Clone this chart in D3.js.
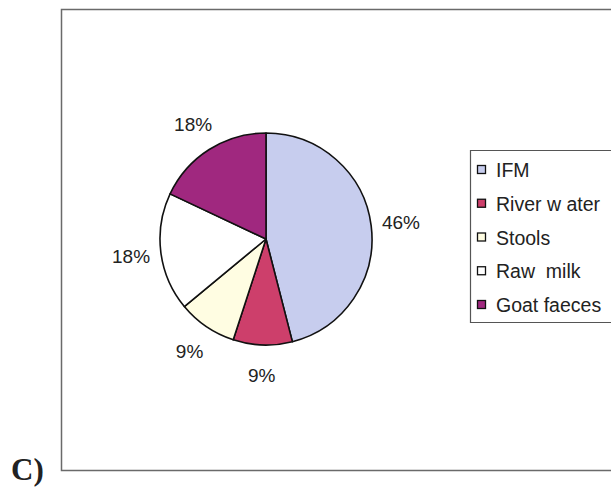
<!DOCTYPE html>
<html>
<head>
<meta charset="utf-8">
<script src="https://cdn.jsdelivr.net/npm/d3@7/dist/d3.min.js"></script>
<style>
  html, body { margin: 0; padding: 0; background: #fff; }
  svg { display: block; }
</style>
</head>
<body>
<svg id="chart" width="611" height="487"></svg>
<script>
// Source categories, their shares (%) and slice colours
const categories = ["IFM", "River w ater", "Stools", "Raw  milk", "Goat faeces"];
const shares = [46, 9, 9, 18, 18];
const sliceColors = ["#c7cdee", "#cd3f6b", "#fffde2", "#ffffff", "#a0287f"];
const percentLabels = shares.map(v => v + "%");

const svg = d3.select("#chart");

// Plot-area frame (open on the right side of the page)
svg.append("path")
  .attr("d", "M620,9.5 H61.5 V470.5 H620")
  .attr("fill", "none")
  .attr("stroke", "#6a6a6a")
  .attr("stroke-width", 1.5);

// Panel letter
svg.append("text")
  .attr("x", 11)
  .attr("y", 480)
  .attr("font-family", "'Liberation Serif', 'Times New Roman', serif")
  .attr("font-weight", "bold")
  .attr("font-size", 31)
  .attr("fill", "#222")
  .text("C)");

// Pie
const cx = 266, cy = 239, radius = 106, labelRadius = 136;
const data = categories.map((c, i) => ({ name: c, value: shares[i], color: sliceColors[i], label: percentLabels[i] }));

const pie = d3.pie().value(d => d.value).sort(null);
const arcs = pie(data);
const arc = d3.arc().innerRadius(0).outerRadius(radius);
const labelArc = d3.arc().innerRadius(labelRadius).outerRadius(labelRadius);

const g = svg.append("g").attr("transform", `translate(${cx},${cy})`);

g.selectAll("path.slice")
  .data(arcs)
  .join("path")
  .attr("class", "slice")
  .attr("d", arc)
  .attr("fill", d => d.data.color)
  .attr("stroke", "#111")
  .attr("stroke-width", 1.6)
  .attr("stroke-linejoin", "round");

g.selectAll("text.pct")
  .data(arcs)
  .join("text")
  .attr("class", "pct")
  .attr("transform", d => `translate(${labelArc.centroid(d)})`)
  .attr("text-anchor", "middle")
  .attr("dy", "0.36em")
  .attr("font-family", "'Liberation Sans', Arial, sans-serif")
  .attr("font-size", 19)
  .attr("fill", "#222")
  .text(d => d.data.label);

// Legend
const legend = svg.append("g");
legend.append("path")
  .attr("d", "M620,150.5 H470.5 V322.5 H620")
  .attr("fill", "#fff")
  .attr("stroke", "#555")
  .attr("stroke-width", 1.2);

const rowY = d3.scalePoint().domain(categories).range([170, 305]);

const rows = legend.selectAll("g.row")
  .data(data)
  .join("g")
  .attr("class", "row")
  .attr("transform", d => `translate(0,${rowY(d.name)})`);

rows.append("rect")
  .attr("x", 477.5)
  .attr("y", -4.5)
  .attr("width", 8)
  .attr("height", 8)
  .attr("fill", d => d.color)
  .attr("stroke", "#111")
  .attr("stroke-width", 1.3);

rows.append("text")
  .attr("x", 496)
  .attr("y", 0)
  .attr("dy", "0.36em")
  .attr("xml:space", "preserve")
  .style("white-space", "pre")
  .attr("font-family", "'Liberation Sans', Arial, sans-serif")
  .attr("font-size", 19.5)
  .attr("fill", "#222")
  .text(d => d.name);
</script>
</body>
</html>
